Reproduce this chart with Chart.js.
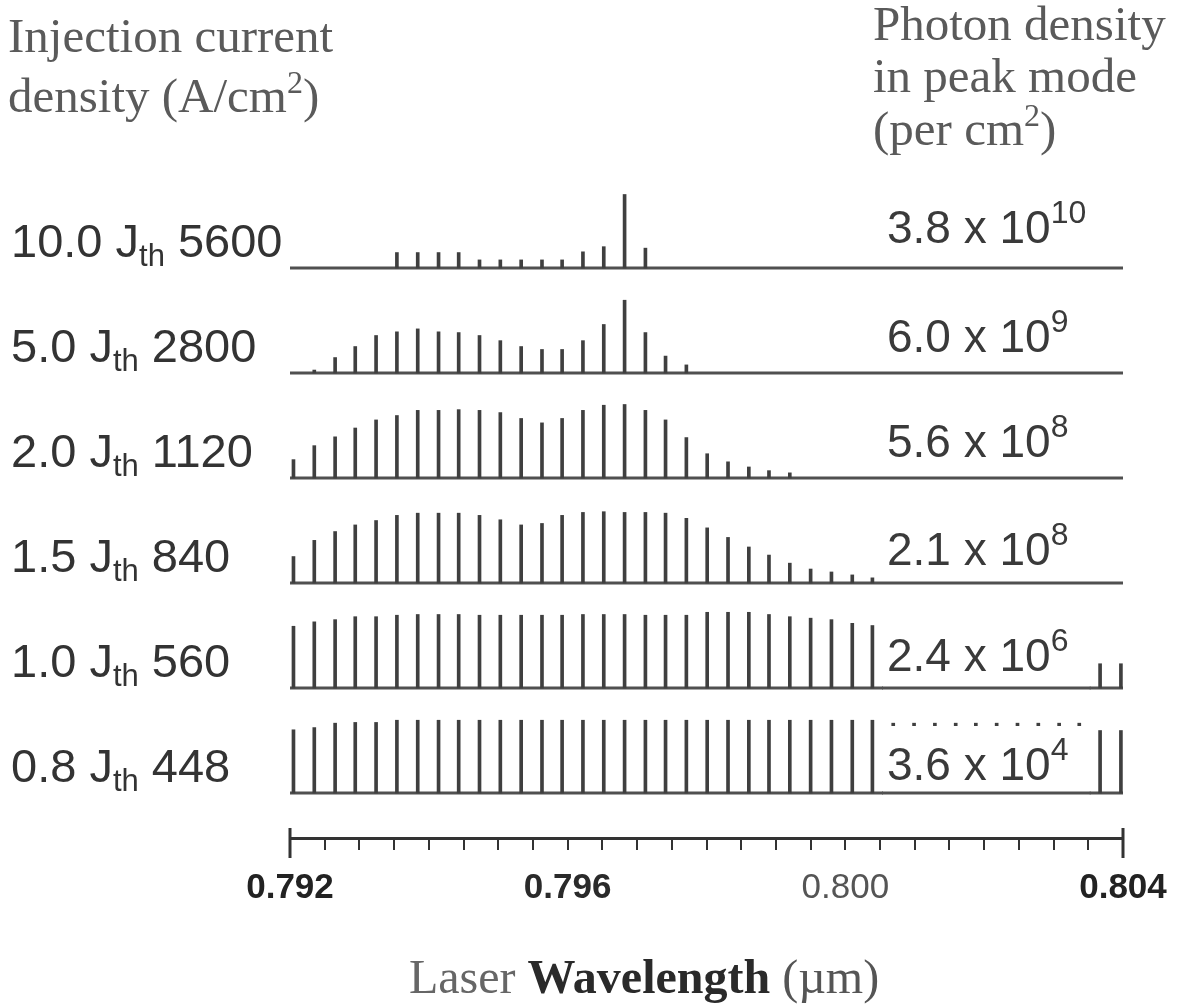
<!DOCTYPE html>
<html>
<head>
<meta charset="utf-8">
<script src="https://cdn.jsdelivr.net/npm/chart.js@4.4.1/dist/chart.umd.min.js"></script>
<style>
  html, body { margin: 0; padding: 0; background: #ffffff; }
  canvas { display: block; }
</style>
</head>
<body>
<canvas id="chart" width="1184" height="1005"></canvas>
<script>
// ---------------- DATA ----------------
// Longitudinal mode wavelengths (µm)
const modeWavelengths = [
  0.79205, 0.79235, 0.79265, 0.79294, 0.79324, 0.79354, 0.79384, 0.79414, 0.79443, 0.79473,
  0.79503, 0.79533, 0.79563, 0.79592, 0.79622, 0.79652, 0.79682, 0.79712, 0.79741, 0.79771,
  0.79801, 0.79831, 0.79861, 0.79890, 0.79920, 0.79950, 0.79980, 0.80010, 0.80039, 0.80069,
  0.80099, 0.80129, 0.80159, 0.80188, 0.80218, 0.80248, 0.80278, 0.80308, 0.80337, 0.80367,
  0.80397
];

// Row labels (top to bottom)
const currentMultiples   = ["10.0", "5.0", "2.0", "1.5", "1.0", "0.8"];
const currentDensities   = ["5600", "2800", "1120", "840", "560", "448"];
const photonMantissas    = ["3.8", "6.0", "5.6", "2.1", "2.4", "3.6"];
const photonExponents    = ["10", "9", "8", "8", "6", "4"];

// Relative mode intensities (normalised per spectrum, arb. units) — one per mode
const modes10J = [0,0,0,0,0,21,21,21,21,11,11,11,11,11,22,29,100,27,0,0,0,0,0,0,0,0,0,0,0,0,0,0,0,0,0,0,0,0,0,0,0];
const modes5J  = [0,4,21,36,51,56,60,56,55,51,44,36,32,32,44,66,99,55,23,11,0,0,0,0,0,0,0,0,0,0,0,0,0,0,0,0,0,0,0,0,0];
const modes2J  = [25,44,56,68,79,85,92,92,93,92,89,81,75,81,92,99,100,92,79,55,33,22,15,10,7,0,0,0,0,0,0,0,0,0,0,0,0,0,0,0,0];
const modes15J = [36,58,70,79,85,92,95,95,95,92,86,79,81,92,96,97,96,96,95,88,75,62,49,38,27,19,15,11,7,0,0,0,0,0,0,0,0,0,0,0,0];
const modes1J  = [84,90,93,97,97,99,100,100,100,99,99,99,99,99,100,100,100,99,99,99,103,103,103,100,97,95,93,88,85,82,79,76,72,68,64,60,55,50,45,33,33];
const modes08J = [86,89,95,96,96,99,99,99,99,99,99,99,99,99,99,99,99,99,99,99,99,99,99,99,99,99,99,99,99,95,95,95,95,95,95,95,95,95,95,85,85];

const spectra = [modes10J, modes5J, modes2J, modes15J, modes1J, modes08J];

// X axis
const xMin = 0.792, xMax = 0.804, xStep = 0.0005;
const xTickValues = [0.792, 0.796, 0.800, 0.804];
const xTickLabels = ["0.792", "0.796", "0.800", "0.804"];

// ---------------- STYLE ----------------
const SANS = '"Liberation Sans", Arial, Helvetica, sans-serif';
const SERIF = '"Liberation Serif", "Times New Roman", serif';
const peakFraction = 0.70;           // height of a 100-unit mode, in row spacings
const lineColor = '#3f3f3f';
const baseColor = '#505050';
const leftLabelLift  = [11, 11, 11, 11, 11, 11];
const rightLabelLift = [25, 21, 21, 18, 17, 13];
const rightBoxTop    = [0, 0, 0, 0, 84, 67];   // white label patch height above baseline (0 = none)
const rightLabelAt   = 0.8006;                  // wavelength where right labels start
const rightBoxEnd    = 0.80352;
const titleCenterAt  = 0.7971;
const tickFontWeight = ['bold', 'bold', 'normal', 'bold'];
const tickColors     = ['#222', '#2a2a2a', '#555', '#222'];

const nRows = spectra.length;
const rowBase = i => nRows - 1 - i;

const datasets = [];
spectra.forEach((vals, i) => {
  const b = rowBase(i);
  datasets.push({
    type: 'line',
    data: [{x: xMin, y: b}, {x: xMax, y: b}],
    borderColor: baseColor,
    borderWidth: 3,
    pointRadius: 0,
    order: 2
  });
  datasets.push({
    type: 'bar',
    data: vals.map((v, k) => ({x: modeWavelengths[k], y: [b, b + v / 100 * peakFraction]}))
              .filter((p, k) => vals[k] > 0),
    backgroundColor: lineColor,
    borderWidth: 0,
    barThickness: 3,
    grouped: false,
    order: 1
  });
});

function drawRich(ctx, x, y, parts) {
  let cx = x;
  for (const p of parts) {
    ctx.font = p.font;
    ctx.fillStyle = p.color || '#333';
    ctx.fillText(p.t, cx, y + (p.dy || 0));
    cx += ctx.measureText(p.t).width;
  }
  return cx - x;
}
function richWidth(ctx, parts) {
  let w = 0;
  for (const p of parts) { ctx.font = p.font; w += ctx.measureText(p.t).width; }
  return w;
}

const labelPlugin = {
  id: 'labels',
  afterDraw(chart) {
    const ctx = chart.ctx;
    const xs = chart.scales.x, ys = chart.scales.y;
    ctx.save();
    ctx.textBaseline = 'alphabetic';
    ctx.textAlign = 'left';

    // right-hand photon density labels on white patches
    for (let i = 0; i < nRows; i++) {
      const by = ys.getPixelForValue(rowBase(i));
      const lx = xs.getPixelForValue(rightLabelAt);
      if (rightBoxTop[i] > 0) {
        ctx.fillStyle = '#ffffff';
        const rx = lx - 4;
        const rw = xs.getPixelForValue(rightBoxEnd) - rx;
        ctx.fillRect(rx, by - rightBoxTop[i], rw, rightBoxTop[i] + 2);
        // restore the baseline under the patch
        ctx.strokeStyle = baseColor;
        ctx.lineWidth = 3;
        ctx.beginPath();
        ctx.moveTo(rx - 1, by);
        ctx.lineTo(rx + rw + 1, by);
        ctx.stroke();
      }
      drawRich(ctx, lx, by - rightLabelLift[i], [
        {t: photonMantissas[i] + ' x 10', font: '46px ' + SANS, color: '#3a3a3a'},
        {t: photonExponents[i], font: '32px ' + SANS, color: '#3a3a3a', dy: -20}
      ]);
    }

    // left-hand injection current labels
    for (let i = 0; i < nRows; i++) {
      const by = ys.getPixelForValue(rowBase(i));
      drawRich(ctx, 11, by - leftLabelLift[i], [
        {t: currentMultiples[i] + ' J', font: '47px ' + SANS, color: '#333'},
        {t: 'th', font: '31px ' + SANS, color: '#333', dy: 9},
        {t: ' ' + currentDensities[i], font: '47px ' + SANS, color: '#333'}
      ]);
    }

    // headers
    const hc = '#5a5a5a';
    const HF = '49px ' + SERIF, HS = '32px ' + SERIF;
    drawRich(ctx, 8, 52, [{t: 'Injection current', font: HF, color: hc}]);
    drawRich(ctx, 8, 112, [
      {t: 'density (A/cm', font: HF, color: hc},
      {t: '2', font: HS, color: hc, dy: -19},
      {t: ')', font: HF, color: hc}
    ]);
    drawRich(ctx, 873, 40, [{t: 'Photon density', font: HF, color: hc}]);
    drawRich(ctx, 873, 92, [{t: 'in peak mode', font: HF, color: hc}]);
    drawRich(ctx, 873, 145, [
      {t: '(per cm', font: HF, color: hc},
      {t: '2', font: HS, color: hc, dy: -19},
      {t: ')', font: HF, color: hc}
    ]);

    // axis title
    const tparts = [
      {t: 'Laser ', font: '48px ' + SERIF, color: '#666'},
      {t: 'Wavelength', font: 'bold 48px ' + SERIF, color: '#2a2a2a'},
      {t: ' (\u00b5m)', font: '48px ' + SERIF, color: '#555'}
    ];
    const tw = richWidth(ctx, tparts);
    const cxm = xs.getPixelForValue(titleCenterAt);
    drawRich(ctx, cxm - tw / 2, 993, tparts);

    // axis end caps
    const ay = xs.top;
    ctx.strokeStyle = '#333';
    ctx.lineWidth = 3;
    [xMin, xMax].forEach(v => {
      const px = xs.getPixelForValue(v);
      ctx.beginPath();
      ctx.moveTo(px, ay - 10);
      ctx.lineTo(px, ay + 20);
      ctx.stroke();
    });
    ctx.restore();
  }
};

new Chart(document.getElementById('chart'), {
  type: 'bar',
  data: { datasets },
  options: {
    responsive: false,
    animation: false,
    devicePixelRatio: 1,
    layout: { padding: { left: 290, right: 61, top: 178, bottom: 107 } },
    plugins: { legend: { display: false }, tooltip: { enabled: false } },
    scales: {
      x: {
        type: 'linear',
        min: xMin, max: xMax,
        offset: false,
        grid: { display: true, drawOnChartArea: false, drawTicks: true, tickLength: 12,
                color: '#333', lineWidth: 2, offset: false },
        border: { display: true, color: '#333', width: 3 },
        ticks: {
          stepSize: xStep, autoSkip: false, maxRotation: 0, minRotation: 0, padding: 17,
          font: (c) => {
            const idx = xTickValues.findIndex(t => c.tick && Math.abs(t - c.tick.value) < 1e-7);
            return { family: SANS, size: 35, weight: idx >= 0 ? tickFontWeight[idx] : 'normal' };
          },
          color: (c) => {
            const idx = xTickValues.findIndex(t => c.tick && Math.abs(t - c.tick.value) < 1e-7);
            return idx >= 0 ? tickColors[idx] : '#222';
          },
          callback: (v) => {
            const idx = xTickValues.findIndex(t => Math.abs(t - v) < 1e-7);
            return idx >= 0 ? xTickLabels[idx] : '';
          }
        },
        afterFit: (s) => { s.height = 60; }
      },
      y: { type: 'linear', display: false, min: -0.4286, max: 5.857 }
    }
  },
  plugins: [labelPlugin]
});
</script>
</body>
</html>
